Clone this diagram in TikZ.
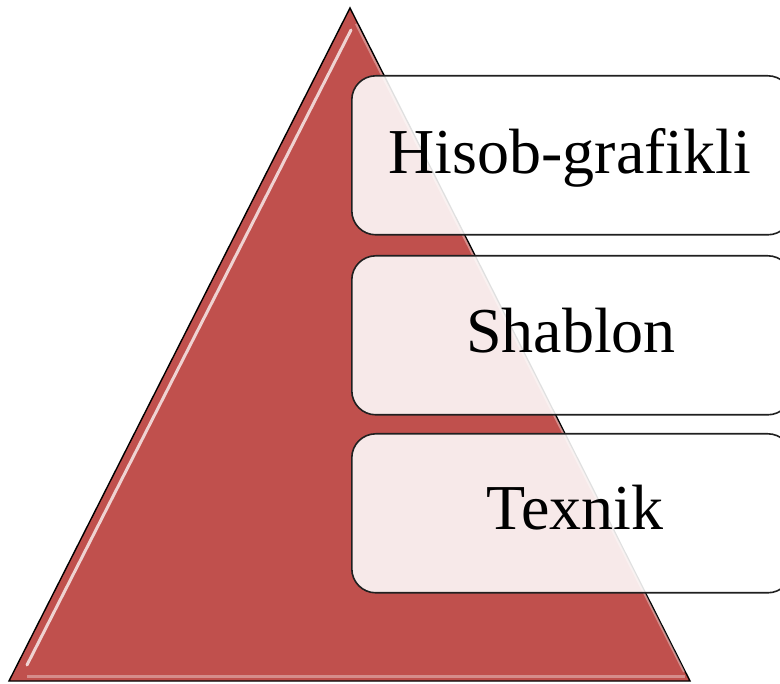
\documentclass[tikz,border=0pt]{standalone}
\usepackage{fontspec}
\setmainfont{Liberation Serif}
\definecolor{pyrred}{HTML}{C0504D}
\definecolor{boxline}{HTML}{202020}
\tikzset{
  levelbox/.style={draw=boxline, line width=1.6pt, fill=white, fill opacity=0.88, text opacity=1,
    rounded corners=24pt, minimum width=440pt, minimum height=159pt, inner sep=0pt, anchor=north west},
  leveltext/.style={font=\fontsize{64}{74}\selectfont, anchor=base, inner sep=0pt},
  pyr/.style={draw=black, line width=1.4pt, fill=pyrred},
}
\begin{document}
\begin{tikzpicture}[x=1pt,y=-1pt]
\useasboundingbox (0,0) rectangle (780,684);
\coordinate (apex) at (350,8);
\coordinate (bl) at (9,681);
\coordinate (br) at (690,681);
\draw[pyr] (apex) -- (br) -- (bl) -- cycle;
% bevel highlights
\draw[white, opacity=0.75, line width=3pt, line cap=round] (351,30) -- (27,665);
\draw[white, opacity=0.35, line width=3pt] (27,676) -- (685,676);
\draw[white, opacity=0.35, line width=2pt] (356,24) -- (684,672);
% boxes
\node[levelbox] (b1) at (351,75) {};
\node[levelbox] (b2) at (351,255) {};
\node[levelbox] (b3) at (351,433) {};
\node[leveltext] (t1) at (570,174) {Hisob-grafikli};
\node[leveltext] (t2) at (571,353) {Shablon};
\node[leveltext] (t3) at (575,530) {Texnik};
\end{tikzpicture}
\end{document}
